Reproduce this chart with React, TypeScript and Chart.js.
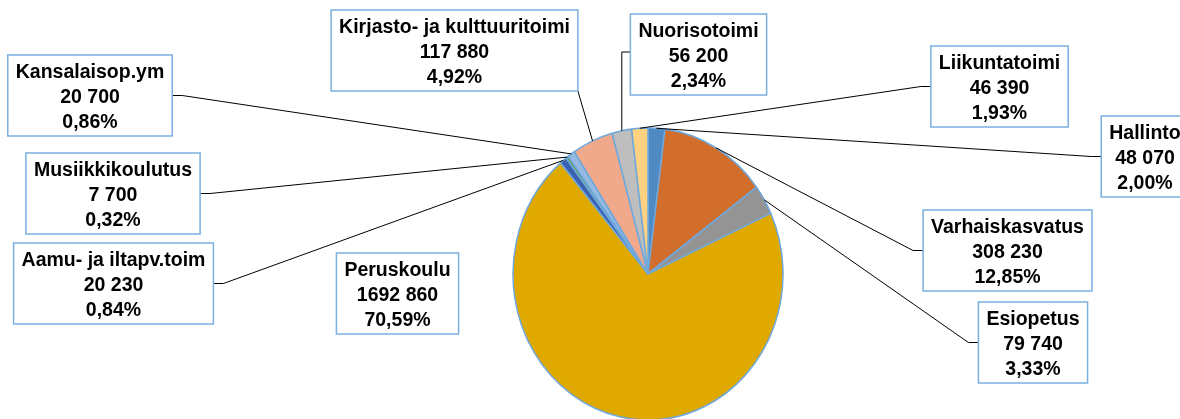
import React, { useEffect, useRef } from "react";
import { Chart, registerables } from "chart.js";

Chart.register(...registerables);

const categories = [
  "Hallinto",
  "Varhaiskasvatus",
  "Esiopetus",
  "Peruskoulu",
  "Aamu- ja iltapv.toim",
  "Musiikkikoulutus",
  "Kansalaisop.ym",
  "Kirjasto- ja kulttuuritoimi",
  "Nuorisotoimi",
  "Liikuntatoimi",
];

const values = [48070, 308230, 79740, 1692860, 20230, 7700, 20700, 117880, 56200, 46390];

const colors = [
  "#4F8AC5",
  "#D26E2B",
  "#949494",
  "#E0A900",
  "#3A62B0",
  "#5F9E41",
  "#97BAE2",
  "#F1A98B",
  "#BEBEBE",
  "#FFD181",
];

// label box layout: center x, top y, leader style
const boxCx = [1145, 1007.5, 1033, 397.5, 113.5, 113, 90, 454.5, 698.5, 999.5];
const boxTop = [116, 210, 302, 253, 243, 153, 55, 10, 14, 46];
const leaderStyle = ["left", "left", "left", "none", "right", "right", "right", "bottomRight", "leftVert", "left"];

const SY = 146 / 135;
const FONT = "bold 19.5px 'Liberation Sans', Arial, sans-serif";
const LINE_H = 25;
const BOX_H = 81;

function fmtValue(v: number): string {
  if (v < 1000) return String(v);
  const hi = Math.floor(v / 1000);
  const lo = String(v % 1000).padStart(3, "0");
  return hi + " " + lo;
}

const total = values.reduce((a, b) => a + b, 0);
function fmtPct(v: number): string {
  return ((v / total) * 100).toFixed(2).replace(".", ",") + "%";
}

const ellipsePlugin = {
  id: "ellipseLabels",
  beforeDatasetsDraw(chart: any) {
    const a = chart.getDatasetMeta(0).data[0];
    const ctx = chart.ctx;
    ctx.save();
    ctx.translate(a.x, a.y);
    ctx.scale(1, SY);
    ctx.translate(-a.x, -a.y);
  },
  afterDatasetsDraw(chart: any) {
    const ctx = chart.ctx;
    ctx.restore();
    const arcs = chart.getDatasetMeta(0).data;
    ctx.save();
    ctx.font = FONT;
    const boxes: any[] = [];
    arcs.forEach((arc: any, i: number) => {
      const lines = [categories[i], fmtValue(values[i]), fmtPct(values[i])];
      const w = Math.max(...lines.map((l) => ctx.measureText(l).width)) + 16;
      const x1 = boxCx[i] - w / 2;
      const y1 = boxTop[i];
      boxes.push({ x1, y1, x2: x1 + w, y2: y1 + BOX_H, lines });
    });
    // leader lines
    ctx.strokeStyle = "#000";
    ctx.lineWidth = 1;
    arcs.forEach((arc: any, i: number) => {
      const st = leaderStyle[i];
      if (st === "none") return;
      const mid = (arc.startAngle + arc.endAngle) / 2;
      const tx = arc.x + Math.cos(mid) * arc.outerRadius;
      const ty = arc.y + Math.sin(mid) * arc.outerRadius * SY;
      const b = boxes[i];
      const my = (b.y1 + b.y2) / 2;
      ctx.beginPath();
      if (st === "left") {
        ctx.moveTo(b.x1, my);
        ctx.lineTo(b.x1 - 10, my);
        ctx.lineTo(tx, ty);
      } else if (st === "right") {
        ctx.moveTo(b.x2, my);
        ctx.lineTo(b.x2 + 10, my);
        ctx.lineTo(tx, ty);
      } else if (st === "bottomRight") {
        ctx.moveTo(b.x2, b.y2);
        ctx.lineTo(tx, ty);
      } else if (st === "leftVert") {
        ctx.moveTo(b.x1, b.y1 + 38);
        ctx.lineTo(tx, b.y1 + 38);
        ctx.lineTo(tx, ty);
      }
      ctx.stroke();
    });
    // boxes
    boxes.forEach((b) => {
      ctx.fillStyle = "#fff";
      ctx.fillRect(b.x1, b.y1, b.x2 - b.x1, b.y2 - b.y1);
      ctx.strokeStyle = "#7BAFE0";
      ctx.lineWidth = 1.5;
      ctx.strokeRect(b.x1, b.y1, b.x2 - b.x1, b.y2 - b.y1);
      ctx.fillStyle = "#000";
      ctx.textAlign = "center";
      ctx.textBaseline = "middle";
      const cx = (b.x1 + b.x2) / 2;
      b.lines.forEach((l: string, k: number) => {
        ctx.fillText(l, cx, b.y1 + 18 + k * LINE_H);
      });
    });
    ctx.restore();
  },
};

export default function App() {
  const ref = useRef<HTMLCanvasElement | null>(null);
  useEffect(() => {
    document.body.style.margin = "0";
    if (!ref.current) return;
    const chart = new Chart(ref.current, {
      type: "pie",
      data: {
        labels: categories,
        datasets: [
          {
            data: values,
            backgroundColor: colors,
            borderColor: "#6FA8DC",
            borderWidth: 1.5,
            radius: 135,
          } as any,
        ],
      },
      options: {
        responsive: false,
        animation: false,
        layout: { padding: { left: 400, right: 284, top: 139, bottom: 10 } },
        plugins: { legend: { display: false }, tooltip: { enabled: false } },
      },
      plugins: [ellipsePlugin],
    });
    return () => chart.destroy();
  }, []);
  return (
    <div style={{ width: 1180, height: 419, background: "#fff" }}>
      <canvas ref={ref} width={1180} height={419} />
    </div>
  );
}
